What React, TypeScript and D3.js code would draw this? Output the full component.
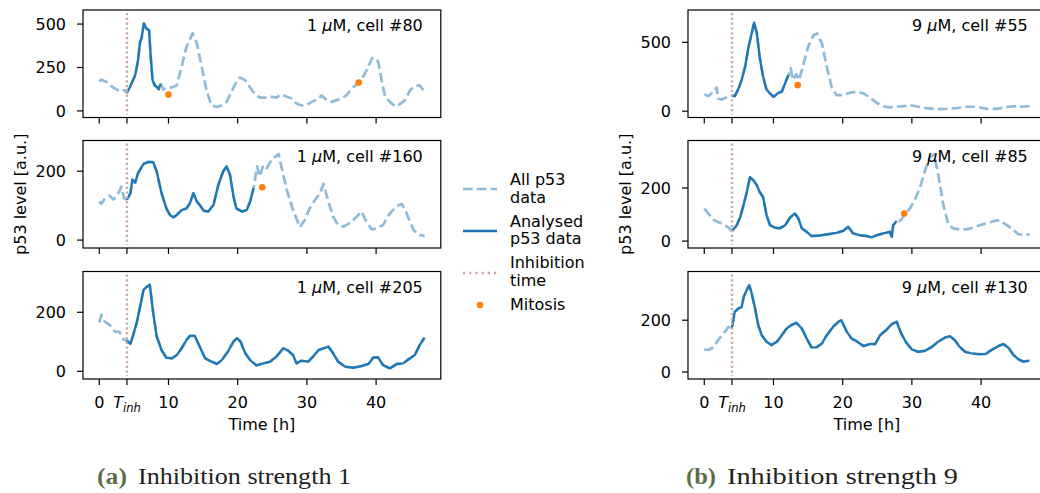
import React from "react";
import * as d3 from "d3";

type Pt = [number, number];

// ---------------- data ----------------
const TIME_TICKS = [0, 4, 10, 20, 30, 40];
const TIME_TICK_LABELS = ["0", "Tinh", "10", "20", "30", "40"];
const INHIBITION_TIME = 4;
const TIME_DOMAIN: [number, number] = [-2.35, 49.35];

const CONCENTRATIONS = [1, 1, 1, 9, 9, 9];
const CELL_IDS = [80, 160, 205, 55, 85, 130];

const P53_CELL80: Pt[] = [
  [0, 170], [0.3, 180], [1.06, 167], [2, 135], [2.9, 115], [3.7, 119], [4, 106], [4.4, 135], [5.2, 206],
  [5.6, 292], [5.9, 398], [6.1, 417], [6.45, 504], [6.8, 475], [7.2, 465], [7.4, 331], [7.7, 177], [8.0, 148],
  [8.4, 135], [8.6, 125], [8.75, 146], [8.9, 154], [9.25, 123], [9.7, 135], [10.45, 135], [11.2, 148],
  [11.9, 254], [12.6, 369], [13.5, 446], [14.1, 388], [14.8, 254], [15.5, 119], [16.2, 33], [17, 23],
  [17.7, 33], [18.4, 52], [19.1, 110], [19.8, 167], [20.3, 192], [21.1, 177], [21.8, 135], [22.5, 96],
  [23.2, 77], [24.2, 77], [24.9, 81], [25.6, 77], [26.3, 96], [27.1, 81], [27.8, 71], [28.5, 42], [29.2, 31],
  [30, 35], [30.7, 52], [31.4, 65], [32.1, 88], [32.9, 62], [33.6, 52], [34.3, 62], [35, 71], [35.7, 90],
  [36.5, 129], [37.2, 154], [37.9, 181], [38.6, 231], [39.4, 302], [39.8, 308], [40.3, 283], [40.8, 177],
  [41.3, 81], [42, 52], [42.7, 27], [43.4, 38], [44.2, 62], [44.9, 119], [45.6, 142], [46.3, 148], [47, 110],
];

const P53_CELL160: Pt[] = [
  [0, 112], [0.3, 105], [0.8, 121], [1.5, 129], [2, 118], [2.5, 126], [3, 146], [3.2, 155], [3.6, 121],
  [4, 117], [4.5, 136], [4.8, 175], [5.2, 167], [5.6, 194], [6.4, 221], [7.1, 227], [7.8, 226], [8.3, 199],
  [9, 136], [9.7, 92], [10.2, 73], [10.7, 66], [11.2, 73], [11.9, 87], [12.6, 92], [13.1, 107], [13.6, 136],
  [14.1, 112], [14.5, 102], [15.1, 85], [15.75, 83], [16.5, 102], [17.2, 160], [17.9, 199], [18.4, 214],
  [18.9, 189], [19.4, 126], [19.8, 92], [20.6, 83], [21.3, 87], [21.8, 112], [22.3, 151], [22.8, 214],
  [23.2, 184], [23.7, 218], [24.2, 209], [24.9, 233], [25.9, 250], [26.3, 214], [27.1, 146], [28, 87],
  [29, 37], [29.7, 58], [30.4, 92], [31.2, 117], [31.9, 136], [32.4, 163], [33.1, 112], [33.8, 68],
  [34.5, 44], [35.3, 39], [36.2, 49], [37.2, 68], [37.9, 83], [38.6, 53], [39.4, 31], [40.1, 34], [41, 44],
  [42, 78], [43, 99], [43.7, 105], [44.4, 78], [45.4, 29], [46.3, 15], [47, 12],
];

const P53_CELL205: Pt[] = [
  [0, 165], [0.3, 191], [0.8, 168], [1.5, 157], [2.3, 134], [2.9, 134], [3.5, 108], [4, 104], [4.5, 93],
  [4.9, 123], [5.4, 163], [5.9, 219], [6.4, 276], [6.8, 285], [7.3, 293], [7.8, 197], [8.3, 118], [9, 72],
  [9.7, 46], [10.5, 44], [11.2, 55], [11.9, 78], [12.6, 106], [13.1, 120], [13.8, 120], [14.5, 84],
  [15.3, 44], [16.2, 33], [17, 25], [17.7, 38], [18.6, 67], [19.4, 101], [19.9, 112], [20.4, 101],
  [21.1, 61], [21.8, 38], [22.7, 20], [23.7, 27], [24.7, 33], [25.6, 50], [26.6, 78], [27.3, 70], [28, 55],
  [28.5, 27], [29.2, 36], [30.2, 33], [30.9, 50], [31.7, 72], [32.4, 78], [33.1, 84], [33.8, 61], [34.5, 33],
  [35.5, 16], [36.7, 12], [37.9, 18], [38.9, 25], [39.6, 47], [40.3, 47], [41, 21], [42, 10], [43, 25],
  [43.9, 27], [44.9, 44], [45.6, 55], [46.3, 89], [47, 114],
];

const P53_CELL55: Pt[] = [
  [0, 124], [0.6, 109], [1.3, 141], [1.8, 172], [2, 92], [2.5, 85], [3.2, 100], [4, 113], [4.4, 109],
  [4.9, 158], [5.4, 226], [5.9, 323], [6.4, 468], [6.8, 553], [7.2, 643], [7.6, 565], [8, 396], [8.5, 250],
  [9, 158], [9.5, 129], [10, 104], [10.7, 133], [11.2, 141], [11.7, 206], [12.1, 255], [12.2, 260],
  [12.5, 311], [12.8, 226], [13.3, 269], [13.7, 226], [14.3, 335], [15, 468], [15.8, 553], [16.3, 565],
  [17, 493], [17.7, 323], [18.4, 177], [19.1, 117], [20.1, 117], [21, 133], [22, 141], [23, 129],
  [23.9, 100], [24.9, 61], [25.9, 36], [26.8, 27], [27.8, 32], [28.8, 36], [30, 41], [30.9, 32], [32.1, 22],
  [33.6, 15], [35, 17], [36.5, 22], [37.9, 32], [39.4, 32], [40.8, 17], [42.2, 17], [43.4, 27], [44.7, 36],
  [45.9, 32], [47, 36],
];

const P53_CELL85: Pt[] = [
  [0, 122], [0.6, 104], [1.3, 81], [2, 72], [2.7, 64], [3.5, 51], [4, 38], [4.7, 60], [5.2, 91], [5.6, 129],
  [6.1, 179], [6.6, 241], [7.1, 229], [7.6, 210], [8, 185], [8.5, 166], [9, 98], [9.5, 60], [10.2, 51],
  [10.9, 48], [11.7, 60], [12.4, 89], [13.1, 104], [13.6, 85], [14.1, 48], [14.8, 35], [15.5, 19],
  [16.7, 21], [17.9, 26], [19.1, 31], [20.1, 39], [20.8, 54], [21.5, 29], [22.5, 22], [23.5, 19],
  [24.2, 14], [24.9, 22], [25.9, 29], [26.8, 35], [27.1, 16], [27.3, 60], [27.8, 76], [28.3, 76], [29, 101],
  [29.7, 122], [30.4, 154], [31.2, 204], [31.9, 266], [32.6, 316], [33.2, 326], [33.8, 254], [34.5, 141],
  [35.3, 60], [36, 48], [36.9, 44], [37.9, 44], [38.9, 51], [39.8, 60], [41, 69], [42, 76], [42.7, 79],
  [43.4, 66], [44.4, 48], [45.4, 26], [46.3, 22], [47, 26],
];

const P53_CELL130: Pt[] = [
  [0, 87], [0.6, 85], [1.3, 95], [2, 123], [2.7, 146], [3.5, 174], [4, 170], [4.4, 232], [4.9, 245],
  [5.4, 251], [5.7, 290], [6.1, 315], [6.5, 335], [6.8, 309], [7.3, 251], [7.8, 181], [8.3, 142], [9, 117],
  [9.7, 104], [10.5, 117], [11.2, 142], [11.9, 168], [12.6, 181], [13.3, 190], [14.1, 168], [14.8, 129],
  [15.5, 95], [16.2, 95], [17, 110], [17.7, 142], [18.6, 174], [19.4, 194], [19.8, 200], [20.6, 155],
  [21.3, 129], [22, 119], [23, 100], [23.9, 108], [24.7, 108], [25.4, 142], [26.3, 162], [27.1, 185],
  [27.8, 194], [28.5, 146], [29.2, 113], [30, 87], [30.9, 78], [31.9, 82], [32.9, 97], [33.8, 117],
  [34.8, 133], [35.5, 138], [36.2, 123], [36.9, 97], [37.7, 78], [38.6, 72], [39.6, 69], [40.6, 69],
  [41.5, 85], [42.5, 100], [43.2, 108], [43.9, 95], [44.7, 65], [45.4, 49], [46.1, 40], [47, 44],
];

const ALL_P53 = [P53_CELL80, P53_CELL160, P53_CELL205, P53_CELL55, P53_CELL85, P53_CELL130];
const ANALYSED_START = [4, 4, 4, 4, 4, 4];
const ANALYSED_END = [8.9, 22.3, 47, 12.2, 27.8, 47];

const MITOSIS_CELL80: Pt[] = [[10.0, 94], [37.5, 163]];
const MITOSIS_CELL160: Pt[] = [[23.55, 153]];
const MITOSIS_CELL205: Pt[] = [];
const MITOSIS_CELL55: Pt[] = [[13.5, 189]];
const MITOSIS_CELL85: Pt[] = [[28.9, 104]];
const MITOSIS_CELL130: Pt[] = [];
const MITOSIS = [MITOSIS_CELL80, MITOSIS_CELL160, MITOSIS_CELL205, MITOSIS_CELL55, MITOSIS_CELL85, MITOSIS_CELL130];

const Y_TICKS = [[0, 250, 500], [0, 200], [0, 200], [0, 500], [0, 200], [0, 200]];
const Y_LIMITS: [number, number][] = [[-38, 581], [-23, 289], [-26, 338], [-46, 735], [-26, 379], [-27, 388]];

const LEGEND_LABELS = [["All p53", "data"], ["Analysed", "p53 data"], ["Inhibition", "time"], ["Mitosis"]];
const CAPTION_TAGS = ["(a)", "(b)"];
const CAPTION_TEXTS = ["Inhibition strength 1", "Inhibition strength 9"];

// ---------------- chart ----------------
const BLUE = "#1f77b4";
const BROWN = "#c9a9a4";
const ORANGE = "#ff7f0e";
const FONT = "DejaVu Sans";
const FS = 16;

export default function App() {
  const W = 1040;
  const H = 493;
  const colX = [83, 688];
  const axW = 357.8;
  const rowY = [10, 140.5, 271.5];
  const axH = 107.5;

  const panels = ALL_P53.map((data, i) => {
    const col = i < 3 ? 0 : 1;
    const row = i % 3;
    const x0 = colX[col];
    const y0 = rowY[row];
    const x = d3.scaleLinear().domain(TIME_DOMAIN).range([x0, x0 + axW]);
    const y = d3.scaleLinear().domain(Y_LIMITS[i]).range([y0 + axH, y0]);
    const line = d3.line<Pt>().x((d) => x(d[0])).y((d) => y(d[1]));
    const analysed = data.filter((d) => d[0] >= ANALYSED_START[i] && d[0] <= ANALYSED_END[i]);
    const bottom = y0 + axH;
    return (
      <g key={i}>
        <path d={line(data) || ""} fill="none" stroke={BLUE} strokeOpacity={0.5} strokeWidth={2.7}
          strokeDasharray="9.6,4.2" strokeLinejoin="round" />
        <path d={line(analysed) || ""} fill="none" stroke={BLUE} strokeWidth={2.4} strokeLinejoin="round" />
        <line x1={x(INHIBITION_TIME)} x2={x(INHIBITION_TIME)} y1={y0 + 3} y2={bottom - 3}
          stroke={BROWN} strokeWidth={2.4} strokeDasharray="2.2,2.6" />
        {MITOSIS[i].map((d, k) => (
          <circle key={k} cx={x(d[0])} cy={y(d[1])} r={3.3} fill={ORANGE} />
        ))}
        <rect x={x0} y={y0} width={axW} height={axH} fill="none" stroke="#000" strokeWidth={1.2} />
        {TIME_TICKS.map((t, k) => (
          <g key={k}>
            <line x1={x(t)} x2={x(t)} y1={bottom} y2={bottom + 6} stroke="#000" strokeWidth={1.2} />
            {row === 2 && (
              TIME_TICK_LABELS[k] === "Tinh" ? (
                <text x={x(t)} y={bottom + 29} textAnchor="middle" fontSize={FS} fontStyle="italic">
                  T<tspan fontSize={11.5} dy={4}>inh</tspan>
                </text>
              ) : (
                <text x={x(t)} y={bottom + 29} textAnchor="middle" fontSize={FS}>{TIME_TICK_LABELS[k]}</text>
              )
            )}
          </g>
        ))}
        {Y_TICKS[i].map((v, k) => (
          <g key={k}>
            <line x1={x0 - 6} x2={x0} y1={y(v)} y2={y(v)} stroke="#000" strokeWidth={1.2} />
            <text x={x0 - 17} y={y(v) + FS * 0.365} textAnchor="end" fontSize={FS}>{v}</text>
          </g>
        ))}
        <text x={x0 + axW - 18} y={y0 + 21} textAnchor="end" fontSize={FS}>
          {CONCENTRATIONS[i]} <tspan fontStyle="italic">μ</tspan>M, cell #{CELL_IDS[i]}
        </text>
      </g>
    );
  });

  const midY = rowY[1] + axH / 2;

  const legX = 463;
  const legLen = 34;
  const legTextX = 510;

  return (
    <svg width={W} height={H} style={{ position: "absolute", left: 0, top: 0 }} fontFamily={FONT}>
      <rect width={W} height={H} fill="#fff" />
      {panels}
      {colX.map((x0, c) => (
        <g key={c}>
          <text transform={`translate(${x0 - 57},${midY}) rotate(-90)`} textAnchor="middle" fontSize={FS}>
            p53 level [a.u.]
          </text>
          <text x={x0 + axW / 2} y={rowY[2] + axH + 51} textAnchor="middle" fontSize={FS}>Time [h]</text>
          <text y={484} fontFamily="Liberation Serif" fontSize={24}>
            <tspan x={c === 0 ? 97 : 686} fontWeight="bold" fill="#5c6e46" textLength={30}
              lengthAdjust="spacingAndGlyphs">{CAPTION_TAGS[c]}</tspan>
          </text>
          <text x={c === 0 ? 138 : 727} y={484} fontFamily="Liberation Serif" fontSize={24} fill="#222"
            textLength={c === 0 ? 213 : 231} lengthAdjust="spacingAndGlyphs">{CAPTION_TEXTS[c]}</text>
        </g>
      ))}
      <g fontSize={FS}>
        <line x1={legX} x2={legX + legLen} y1={189} y2={189} stroke={BLUE} strokeOpacity={0.5}
          strokeWidth={2.7} strokeDasharray="9.6,4.2" />
        <text x={legTextX} y={185}>{LEGEND_LABELS[0][0]}</text>
        <text x={legTextX} y={203}>{LEGEND_LABELS[0][1]}</text>
        <line x1={legX} x2={legX + legLen} y1={231} y2={231} stroke={BLUE} strokeWidth={2.4} />
        <text x={legTextX} y={227}>{LEGEND_LABELS[1][0]}</text>
        <text x={legTextX} y={244}>{LEGEND_LABELS[1][1]}</text>
        <line x1={legX} x2={legX + legLen} y1={273} y2={273} stroke={BROWN} strokeWidth={2.4}
          strokeDasharray="2.2,4" />
        <text x={legTextX} y={268}>{LEGEND_LABELS[2][0]}</text>
        <text x={legTextX} y={286}>{LEGEND_LABELS[2][1]}</text>
        <circle cx={legX + legLen / 2} cy={305} r={3.3} fill={ORANGE} />
        <text x={legTextX} y={310}>{LEGEND_LABELS[3][0]}</text>
      </g>
    </svg>
  );
}
